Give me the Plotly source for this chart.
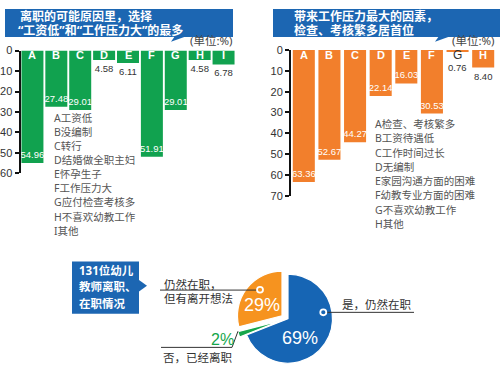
import plotly.graph_objects as go

# ---------------- data ----------------
left_cats = ["A", "B", "C", "D", "E", "F", "G", "H", "I"]
left_vals = [54.96, 27.48, 29.01, 4.58, 6.11, 51.91, 29.01, 4.58, 6.78]
left_reasons = ["A工资低", "B没编制", "C转行", "D结婚做全职主妇", "E怀孕生子",
                "F工作压力大", "G应付检查考核多", "H不喜欢幼教工作", "I其他"]

right_cats = ["A", "B", "C", "D", "E", "F", "G", "H"]
right_vals = [63.36, 52.67, 44.27, 22.14, 16.03, 30.53, 0.76, 8.40]
right_factors = ["A检查、考核繁多", "B工资待遇低", "C工作时间过长", "D无编制",
                 "E家园沟通方面的困难", "F幼教专业方面的困难", "G不喜欢幼教工作", "H其他"]

left_ticks = [0, 10, 20, 30, 40, 50, 60]
right_ticks = [0, 10, 20, 30, 40, 50, 60, 70]

pie_labels = ["是，仍然在职", "否，已经离职", "仍然在职，但有离开想法"]
pie_vals = [69, 2, 29]

title_left = ["离职的可能原因里，选择", "“工资低”和“工作压力大”的最多"]
title_right = ["带来工作压力最大的因素，", "检查、考核繁多居首位"]
box_lines = ["131位幼儿", "教师离职、", "在职情况"]
unit_text = "(单位:%)"

# ---------------- style ----------------
W, H = 500, 374
GREEN = "#11a24f"
ORANGE = "#f27f2c"
BLUE_BANNER = "#1c66b2"
PIE_COLORS = ["#1665b4", "#15a64b", "#f6931f"]
CJK = "Noto Sans, Noto Sans CJK SC, sans-serif"
NUM = "Liberation Sans, Arial, sans-serif"
TXT = "#444444"


def fx(x):
    return x / W


def fy(y):
    return 1 - y / H


fig = go.Figure()
ann = []
shapes = []


def bar_trace(cats, vals, xa, ya, color, width):
    pos = ["inside" if v >= 10 else "outside" for v in vals]
    cols = ["white" if v >= 10 else "#333333" for v in vals]
    # very short bars get their value written below the category letter instead
    txt = [f"{v:.2f}" if v >= 3 else "" for v in vals]
    for c, v in zip(cats, vals):
        if v < 3:
            ann.append(dict(x=c, y=8.2, xref=xa, yref=ya, text=f"{v:.2f}", showarrow=False,
                            font=dict(size=9.5, color="#333333", family=NUM)))
    return go.Bar(
        x=cats, y=vals, xaxis=xa, yaxis=ya, width=width,
        marker=dict(color=color, line=dict(width=0)),
        text=txt, textposition=pos, textangle=0,
        textfont=dict(color=cols, size=9.5, family=NUM),
        insidetextanchor="end", constraintext="none", cliponaxis=False,
        hoverinfo="skip", showlegend=False,
    )


fig.add_trace(bar_trace(left_cats, left_vals, "x", "y", GREEN, 0.92))
fig.add_trace(bar_trace(right_cats, right_vals, "x2", "y2", ORANGE, 0.86))

# pie: one trace per slice so each slice can be offset individually
PC = (288, 323)
R = 46
shifts = [(0, 0), (-7, 2), (-6, -3)]
for i, (dx, dy) in enumerate(shifts):
    cx, cy = PC[0] + dx, PC[1] + dy
    fig.add_trace(go.Pie(
        labels=pie_labels, values=pie_vals, sort=False,
        direction="clockwise", rotation=0,
        marker=dict(colors=[PIE_COLORS[j] if j == i else "rgba(0,0,0,0)" for j in range(3)],
                    line=dict(color="white", width=[1.2 if j == i else 0 for j in range(3)])),
        textinfo="none", hoverinfo="skip", showlegend=False,
        domain=dict(x=[fx(cx - R), fx(cx + R)], y=[fy(cy + R), fy(cy - R)]),
    ))

axis_common = dict(showgrid=False, zeroline=False, showline=True, linecolor="#111111",
                   linewidth=2, ticks="outside", ticklen=4, tickwidth=1.5, tickcolor="#111111",
                   tickfont=dict(size=11, color="#333333", family="Liberation Sans, Arial, sans-serif"))

fig.update_layout(
    width=W, height=H, margin=dict(l=0, r=0, t=0, b=0),
    paper_bgcolor="white", plot_bgcolor="rgba(0,0,0,0)",
    xaxis=dict(domain=[fx(20.5), fx(235.5)], anchor="y", visible=False),
    yaxis=dict(domain=[fy(173), fy(46)], anchor="x", range=[60, 0],
               tickvals=left_ticks, **axis_common),
    xaxis2=dict(domain=[fx(291), fx(496)], anchor="y2", visible=False),
    yaxis2=dict(domain=[fy(196), fy(45.5)], anchor="x2", range=[70, 0],
                tickvals=right_ticks, **axis_common),
)


def text(x, y, s, size=12, color=TXT, xanchor="left", bold=False, family=CJK):
    ann.append(dict(x=fx(x), y=fy(y), xref="paper", yref="paper", text=f"<b>{s}</b>" if bold else s,
                    showarrow=False, xanchor=xanchor, yanchor="middle",
                    font=dict(size=size, color=color, family=family)))


def rect(x0, y0, x1, y1, color):
    shapes.append(dict(type="rect", xref="paper", yref="paper", x0=fx(x0), x1=fx(x1),
                       y0=fy(y1), y1=fy(y0), fillcolor=color, line=dict(width=0), layer="below"))


def path(pts, color, fill=True, width=1):
    d = "M " + " L ".join(f"{fx(x)} {fy(y)}" for x, y in pts) + (" Z" if fill else "")
    s = dict(type="path", xref="paper", yref="paper", path=d, line=dict(color=color, width=width if not fill else 0))
    if fill:
        s["fillcolor"] = color
    shapes.append(s)


# banners
rect(5, 3, 233, 32, BLUE_BANNER)
path([(175, 31), (187, 31), (171, 37)], BLUE_BANNER)
text(18, 11, title_left[0], size=12, color="white", bold=True)
text(16, 25, title_left[1], size=12, color="white", bold=True)
rect(273, 3, 500, 32, BLUE_BANNER)
path([(439, 31), (451, 31), (435, 37)], BLUE_BANNER)
text(292, 11, title_right[0], size=12, color="white", bold=True)
text(292, 25, title_right[1], size=12, color="white", bold=True)
text(235, 36, unit_text, size=11.5, color=TXT, xanchor="right")
text(497, 36, unit_text, size=11.5, color=TXT, xanchor="right")

# category letters at the top of bars
for c, v in zip(left_cats, left_vals):
    ann.append(dict(x=c, y=2.0, xref="x", yref="y", text=f"<b>{c}</b>", showarrow=False,
                    font=dict(size=11, color="white" if v > 3 else "#333333", family="Liberation Sans, Arial")))
for c, v in zip(right_cats, right_vals):
    ann.append(dict(x=c, y=2.6, xref="x2", yref="y2", text=c if v < 3 else f"<b>{c}</b>", showarrow=False,
                    font=dict(size=11 if v >= 3 else 12, color="white" if v > 3 else "#333333",
                              family="Liberation Sans, Arial")))

# reason lists
for i, s in enumerate(left_reasons):
    text(52, 116 + 14.5 * i, s, size=10.5, color="#555555")
for i, s in enumerate(right_factors):
    text(373, 122 + 14.75 * i, s, size=10.5, color="#555555")

# blue box for pie
rect(72, 264, 139, 318, BLUE_BANNER)
path([(139, 283), (147, 289), (139, 295)], BLUE_BANNER)
for i, s in enumerate(box_lines):
    text(77, 273 + 17 * i, s, size=11.5, color="white", bold=True)

# pie labels
PCT_FONT = "Liberation Sans, Arial, sans-serif"
text(300, 343, f"{pie_vals[0]}%", size=18, color="white", xanchor="center", family=PCT_FONT)
text(262, 309, f"{pie_vals[2]}%", size=18, color="white", xanchor="center", family=PCT_FONT)
text(222, 344.5, f"{pie_vals[1]}%", size=16, color=PIE_COLORS[1], xanchor="center", family=PCT_FONT)

label2 = pie_labels[2].split("，")
text(162, 287.5, label2[0] + "，", size=11.5, color="#333333")
text(162, 302, label2[1], size=11.5, color="#333333")
text(340, 308, pie_labels[0], size=11.5, color="#333333")
text(161, 363.5, pie_labels[1], size=11.5, color="#333333")

LINE = "#333333"
path([(160, 293.5), (257, 293.5)], LINE, fill=False, width=1)
path([(326, 316.5), (414, 316.5)], LINE, fill=False, width=1)
path([(161, 352.7), (232, 352.7), (238, 336)], LINE, fill=False, width=1)
for (cx, cy), col in [((260, 293.2), PIE_COLORS[2]), ((323.3, 316.5), PIE_COLORS[0])]:
    shapes.append(dict(type="circle", xref="paper", yref="paper",
                       x0=fx(cx - 3), x1=fx(cx + 3), y0=fy(cy + 3), y1=fy(cy - 3),
                       fillcolor=col, line=dict(color="white", width=1.8)))

fig.update_layout(annotations=ann, shapes=shapes)
fig.write_html("out.html", config={"displayModeBar": False},
               post_script="document.body.style.margin='0';")
